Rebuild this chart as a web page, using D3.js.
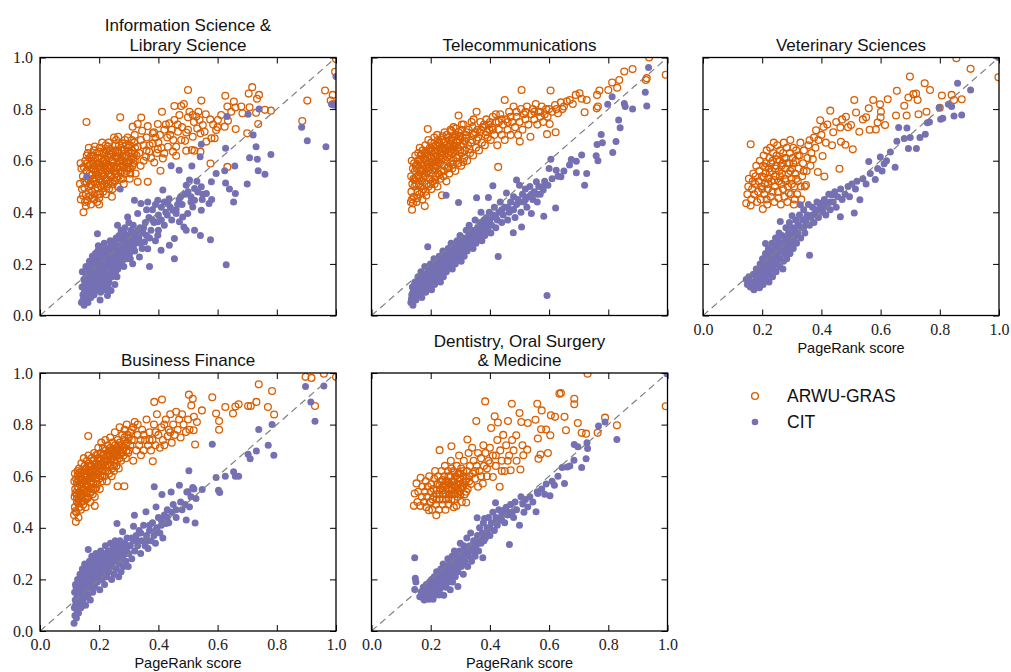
<!DOCTYPE html>
<html>
<head>
<meta charset="utf-8">
<script src="https://cdn.jsdelivr.net/npm/d3@7"></script>
<style>
  body { margin: 0; background: #fff; }
  svg { display: block; }
</style>
</head>
<body>
<div id="chart"></div>
<script>
// values, [PageRank score, other ranking score]
const infoArwu = [
  [0.138,0.45],[0.142,0.49],[0.135,0.51],[0.145,0.54],[0.14,0.57],[0.137,0.59],
  [0.152,0.44],[0.155,0.47],[0.15,0.52],[0.157,0.56],[0.153,0.60],[0.158,0.62],
  [0.163,0.46],[0.166,0.50],[0.161,0.53],[0.168,0.55],[0.164,0.58],[0.167,0.61],[0.162,0.63],
  [0.172,0.43],[0.176,0.48],[0.171,0.51],[0.178,0.53],[0.174,0.57],[0.177,0.59],[0.173,0.62],
  [0.183,0.45],[0.186,0.49],[0.181,0.52],[0.188,0.56],[0.184,0.58],[0.187,0.61],[0.182,0.64],
  [0.193,0.44],[0.196,0.47],[0.191,0.51],[0.198,0.54],[0.194,0.57],[0.197,0.59],[0.192,0.63],
  [0.203,0.47],[0.206,0.50],[0.201,0.53],[0.208,0.55],[0.204,0.58],[0.207,0.61],[0.202,0.65],
  [0.213,0.48],[0.216,0.51],[0.211,0.54],[0.218,0.57],[0.214,0.60],[0.217,0.63],
  [0.223,0.47],[0.226,0.50],[0.221,0.53],[0.228,0.56],[0.224,0.59],[0.227,0.62],[0.222,0.66],
  [0.233,0.49],[0.236,0.52],[0.231,0.55],[0.238,0.58],[0.234,0.61],[0.237,0.64],[0.232,0.67],
  [0.243,0.46],[0.246,0.51],[0.241,0.54],[0.248,0.57],[0.244,0.60],[0.247,0.63],
  [0.253,0.52],[0.256,0.55],[0.251,0.58],[0.258,0.61],[0.254,0.64],[0.257,0.68],
  [0.263,0.50],[0.266,0.54],[0.261,0.57],[0.268,0.60],[0.264,0.63],[0.267,0.66],
  [0.273,0.53],[0.276,0.56],[0.271,0.59],[0.278,0.62],[0.274,0.65],
  [0.283,0.51],[0.286,0.55],[0.281,0.58],[0.288,0.61],[0.284,0.64],[0.287,0.68],
  [0.293,0.56],[0.296,0.59],[0.291,0.62],[0.298,0.65],
  [0.303,0.53],[0.306,0.57],[0.301,0.60],[0.308,0.63],[0.304,0.66],
  [0.313,0.58],[0.316,0.61],[0.311,0.64],[0.318,0.67],[0.323,0.55],[0.326,0.62],[0.321,0.65],
  [0.145,0.465],[0.15,0.495],[0.148,0.575],[0.16,0.445],[0.158,0.515],[0.17,0.465],[0.175,0.545],
  [0.18,0.60],[0.185,0.47],[0.19,0.53],[0.195,0.61],[0.2,0.455],[0.205,0.56],[0.21,0.63],
  [0.215,0.495],[0.22,0.58],[0.225,0.64],[0.23,0.51],[0.235,0.57],[0.24,0.625],[0.245,0.49],
  [0.25,0.56],[0.255,0.66],[0.26,0.535],[0.265,0.61],[0.27,0.575],[0.275,0.64],[0.28,0.53],
  [0.285,0.595],[0.29,0.66],[0.295,0.57],[0.3,0.63],[0.305,0.55],[0.31,0.68],[0.315,0.59],
  [0.2,0.43],[0.178,0.455],[0.155,0.425],[0.165,0.65],[0.185,0.655],[0.21,0.67],[0.25,0.69],
  [0.32,0.6],[0.335,0.63],[0.34,0.58],[0.35,0.66],[0.36,0.64],[0.375,0.61],[0.385,0.71],
  [0.4,0.67],[0.43,0.69],[0.445,0.72],
  [0.165,0.525],[0.17,0.585],[0.175,0.505],[0.18,0.565],[0.19,0.545],[0.195,0.495],[0.2,0.575],
  [0.205,0.525],[0.21,0.595],[0.215,0.545],[0.22,0.605],[0.225,0.525],[0.23,0.575],[0.235,0.625],
  [0.24,0.545],[0.245,0.595],[0.25,0.525],[0.255,0.615],[0.26,0.575],[0.265,0.635],[0.27,0.555],
  [0.275,0.605],[0.28,0.575],[0.29,0.595],[0.3,0.575],[0.31,0.615],[0.2,0.635],[0.18,0.62],
  [0.16,0.59],[0.23,0.655],
  [0.313,0.732],[0.33,0.742],[0.345,0.716],[0.342,0.767],[0.364,0.734],[0.381,0.706],[0.398,0.742],
  [0.412,0.79],[0.425,0.74],[0.437,0.745],[0.454,0.758],[0.454,0.812],[0.477,0.812],[0.486,0.82],
  [0.471,0.777],[0.50,0.768],[0.505,0.79],[0.516,0.777],[0.528,0.771],[0.539,0.758],[0.55,0.738],
  [0.531,0.725],[0.556,0.712],[0.542,0.706],[0.516,0.693],[0.494,0.709],[0.466,0.712],[0.477,0.68],
  [0.49,0.677],[0.46,0.654],[0.449,0.635],[0.46,0.619],[0.494,0.639],[0.513,0.641],[0.522,0.639],
  [0.542,0.635],[0.432,0.654],[0.42,0.628],[0.398,0.644],[0.381,0.667],[0.369,0.635],[0.358,0.615],
  [0.341,0.68],[0.33,0.654],[0.319,0.628],[0.296,0.69],[0.279,0.667],[0.264,0.693],[0.364,0.518],
  [0.33,0.518],[0.407,0.561],[0.386,0.593],[0.415,0.609],[0.59,0.687],[0.562,0.674],[0.601,0.758],
  [0.646,0.79],[0.633,0.81],[0.612,0.777],[0.66,0.806],[0.684,0.784],[0.35,0.60],[0.37,0.66],
  [0.39,0.69],[0.405,0.70],[0.42,0.72],[0.44,0.70],[0.45,0.68],[0.465,0.74],[0.48,0.73],[0.50,0.72],
  [0.52,0.75],[0.535,0.79],[0.56,0.78],[0.575,0.76],[0.585,0.74],[0.6,0.73],[0.395,0.63],[0.41,0.65],
  [0.36,0.69],[0.32,0.70],
  [0.157,0.75],[0.147,0.40],[0.271,0.768],[0.50,0.874],[0.545,0.833],[0.717,0.885],[0.74,0.855],
  [0.733,0.84],[0.705,0.86],[0.626,0.852],[0.655,0.829],[0.68,0.81],[0.708,0.807],[0.76,0.797],
  [0.78,0.794],[0.73,0.786],[0.737,0.742],[0.70,0.706],[0.661,0.723],[0.624,0.732],[0.635,0.755],
  [0.595,0.719],[0.579,0.687],[0.576,0.589],[0.633,0.576],[0.886,0.754],[0.903,0.833],[0.963,0.872],
  [0.989,0.855],[0.997,0.945],[1.0,0.994],[0.982,0.833],[0.99,0.82]
];
const infoCit = [
  [0.14,0.05],[0.145,0.08],[0.142,0.11],[0.148,0.14],[0.143,0.17],[0.149,0.04],
  [0.153,0.06],[0.156,0.10],[0.152,0.13],[0.158,0.16],[0.155,0.19],
  [0.162,0.05],[0.165,0.09],[0.161,0.12],[0.168,0.15],[0.164,0.18],[0.167,0.21],
  [0.172,0.07],[0.176,0.11],[0.171,0.14],[0.178,0.17],[0.174,0.20],[0.177,0.23],
  [0.183,0.08],[0.186,0.12],[0.181,0.15],[0.188,0.18],[0.184,0.21],[0.187,0.24],
  [0.193,0.10],[0.196,0.13],[0.191,0.16],[0.198,0.19],[0.194,0.22],[0.197,0.27],[0.194,0.317],
  [0.203,0.06],[0.206,0.11],[0.201,0.14],[0.208,0.17],[0.204,0.20],[0.207,0.23],[0.206,0.259],
  [0.213,0.12],[0.216,0.15],[0.211,0.18],[0.218,0.21],[0.214,0.24],[0.217,0.28],
  [0.223,0.10],[0.228,0.078],[0.226,0.14],[0.221,0.17],[0.228,0.20],[0.224,0.23],[0.227,0.26],
  [0.233,0.13],[0.236,0.16],[0.231,0.19],[0.238,0.22],[0.234,0.25],[0.237,0.29],
  [0.243,0.15],[0.246,0.18],[0.241,0.21],[0.248,0.24],[0.244,0.27],[0.24,0.097],
  [0.253,0.12],[0.256,0.17],[0.251,0.20],[0.258,0.23],[0.254,0.26],[0.257,0.30],
  [0.263,0.18],[0.266,0.21],[0.262,0.35],[0.268,0.24],[0.264,0.27],[0.267,0.31],
  [0.273,0.20],[0.276,0.23],[0.271,0.26],[0.278,0.29],[0.274,0.33],
  [0.283,0.19],[0.285,0.24],[0.288,0.27],[0.284,0.30],[0.287,0.34],
  [0.293,0.22],[0.296,0.25],[0.296,0.382],[0.298,0.28],[0.294,0.31],
  [0.303,0.24],[0.306,0.27],[0.301,0.30],[0.308,0.33],
  [0.145,0.06],[0.15,0.09],[0.152,0.12],[0.155,0.15],[0.16,0.07],[0.163,0.14],[0.166,0.19],
  [0.17,0.09],[0.175,0.16],[0.18,0.10],[0.185,0.19],[0.19,0.12],[0.195,0.25],[0.2,0.16],
  [0.205,0.09],[0.21,0.21],[0.215,0.13],[0.22,0.25],[0.225,0.19],[0.23,0.11],[0.235,0.23],
  [0.24,0.28],[0.245,0.16],[0.25,0.22],[0.255,0.29],[0.26,0.15],[0.265,0.25],[0.27,0.30],
  [0.275,0.21],[0.28,0.27],[0.285,0.32],[0.29,0.24],[0.295,0.29],[0.3,0.36],[0.305,0.22],
  [0.31,0.31],[0.315,0.35],[0.32,0.25],[0.33,0.33],[0.34,0.28],[0.35,0.34],[0.36,0.41],
  [0.37,0.30],[0.38,0.37],[0.39,0.43],[0.40,0.33],[0.41,0.37],[0.42,0.44],[0.43,0.39],
  [0.44,0.42],[0.46,0.41],[0.47,0.45],[0.48,0.43],[0.50,0.48],[0.51,0.46],[0.53,0.52],[0.55,0.47],
  [0.155,0.085],[0.165,0.115],[0.17,0.185],[0.18,0.135],[0.19,0.205],[0.2,0.125],[0.205,0.185],
  [0.21,0.145],[0.22,0.205],[0.225,0.155],[0.23,0.235],[0.24,0.185],[0.25,0.255],[0.26,0.205],
  [0.27,0.235],[0.28,0.215],[0.29,0.265],
  [0.313,0.201],[0.316,0.26],[0.319,0.29],[0.311,0.32],[0.319,0.447],
  [0.323,0.28],[0.326,0.31],[0.33,0.395],[0.336,0.227],[0.334,0.30],[0.338,0.34],
  [0.341,0.434],[0.345,0.26],[0.348,0.32],[0.353,0.285],[0.356,0.36],[0.364,0.44],[0.364,0.259],
  [0.36,0.31],[0.368,0.38],[0.37,0.19],[0.375,0.33],[0.38,0.41],[0.385,0.36],[0.39,0.29],
  [0.398,0.447],[0.398,0.311],[0.40,0.39],[0.398,0.363],[0.409,0.253],[0.41,0.42],[0.415,0.486],
  [0.42,0.35],[0.425,0.40],[0.432,0.434],[0.436,0.453],[0.437,0.272],[0.443,0.58],[0.445,0.37],
  [0.449,0.408],[0.454,0.298],[0.454,0.22],[0.46,0.395],[0.465,0.43],[0.47,0.563],[0.471,0.363],
  [0.475,0.46],[0.482,0.382],[0.486,0.343],[0.49,0.47],[0.494,0.33],[0.494,0.505],[0.499,0.395],
  [0.505,0.525],[0.51,0.44],[0.513,0.579],[0.516,0.421],[0.522,0.447],[0.522,0.492],[0.522,0.33],
  [0.533,0.479],[0.541,0.615],[0.542,0.31],[0.545,0.499],[0.545,0.408],[0.545,0.664],[0.548,0.45],
  [0.562,0.473],[0.571,0.434],[0.576,0.294],[0.579,0.518],[0.58,0.45],[0.595,0.55],[0.624,0.561],
  [0.627,0.514],[0.627,0.648],[0.629,0.197],[0.632,0.771],[0.64,0.49],[0.654,0.44],[0.658,0.579],
  [0.66,0.473],[0.70,0.51],[0.703,0.78],[0.708,0.611],[0.72,0.70],[0.73,0.654],[0.734,0.606],
  [0.737,0.561],[0.74,0.80],[0.76,0.547],[0.78,0.624],[0.884,0.73],[0.903,0.677],[0.966,0.654],
  [0.985,0.819],[0.995,0.815],[1.0,0.926],[0.158,0.54],[0.271,0.49]
];
const telecomArwu = [
  [0.133,0.44],[0.137,0.41],[0.137,0.45],[0.135,0.48],[0.138,0.51],[0.134,0.54],[0.14,0.57],[0.136,0.60],
  [0.143,0.46],[0.145,0.50],[0.142,0.53],[0.147,0.56],[0.144,0.59],[0.148,0.62],
  [0.152,0.44],[0.155,0.48],[0.151,0.51],[0.157,0.54],[0.153,0.57],[0.156,0.60],[0.158,0.63],
  [0.162,0.47],[0.165,0.50],[0.161,0.53],[0.167,0.56],[0.164,0.59],[0.166,0.62],[0.163,0.65],
  [0.172,0.45],[0.175,0.49],[0.171,0.52],[0.178,0.55],[0.174,0.58],[0.177,0.61],[0.173,0.64],
  [0.18,0.424],[0.183,0.48],[0.186,0.51],[0.181,0.54],[0.188,0.57],[0.184,0.60],[0.187,0.63],[0.182,0.66],
  [0.19,0.723],[0.193,0.50],[0.196,0.53],[0.191,0.56],[0.198,0.59],[0.194,0.62],[0.197,0.65],[0.192,0.68],
  [0.203,0.49],[0.206,0.52],[0.201,0.55],[0.208,0.58],[0.204,0.61],[0.207,0.64],[0.202,0.67],
  [0.213,0.51],[0.216,0.54],[0.211,0.57],[0.218,0.60],[0.214,0.63],[0.217,0.66],[0.212,0.69],
  [0.223,0.50],[0.226,0.55],[0.221,0.58],[0.228,0.61],[0.224,0.64],[0.227,0.67],[0.222,0.70],
  [0.233,0.53],[0.236,0.56],[0.231,0.59],[0.238,0.62],[0.234,0.65],[0.237,0.68],[0.238,0.466],
  [0.243,0.54],[0.246,0.58],[0.241,0.61],[0.248,0.64],[0.244,0.67],[0.247,0.71],
  [0.253,0.52],[0.256,0.57],[0.251,0.60],[0.258,0.63],[0.254,0.66],[0.257,0.69],
  [0.263,0.55],[0.266,0.59],[0.261,0.62],[0.268,0.65],[0.264,0.68],[0.267,0.72],
  [0.273,0.57],[0.276,0.60],[0.271,0.63],[0.278,0.66],[0.274,0.69],[0.277,0.73],
  [0.283,0.56],[0.286,0.61],[0.281,0.64],[0.288,0.67],[0.284,0.70],[0.294,0.775],
  [0.293,0.59],[0.296,0.62],[0.291,0.65],[0.298,0.68],[0.294,0.71],
  [0.14,0.435],[0.145,0.525],[0.15,0.58],[0.155,0.455],[0.16,0.545],[0.165,0.605],[0.17,0.48],
  [0.175,0.565],[0.18,0.63],[0.185,0.465],[0.19,0.585],[0.195,0.64],[0.2,0.51],[0.205,0.595],
  [0.21,0.655],[0.215,0.525],[0.22,0.615],[0.225,0.68],[0.23,0.545],[0.235,0.635],[0.24,0.695],
  [0.245,0.56],[0.25,0.645],[0.255,0.70],[0.26,0.575],[0.265,0.665],[0.27,0.715],[0.275,0.585],
  [0.28,0.655],[0.285,0.725],[0.29,0.61],[0.295,0.695],[0.3,0.64],[0.305,0.74],[0.31,0.595],
  [0.315,0.675],[0.32,0.71],[0.33,0.645],[0.34,0.68],[0.345,0.76],[0.35,0.71],[0.36,0.69],
  [0.37,0.72],[0.38,0.74],[0.39,0.71],[0.4,0.75],[0.41,0.72],[0.42,0.78],[0.43,0.75],[0.44,0.76],
  [0.46,0.75],[0.47,0.77],[0.49,0.79],[0.52,0.79],[0.55,0.79],[0.57,0.79],[0.6,0.80],
  [0.15,0.535],[0.155,0.585],[0.16,0.51],[0.165,0.565],[0.17,0.625],[0.175,0.535],[0.18,0.59],
  [0.185,0.555],[0.19,0.615],[0.195,0.575],[0.2,0.635],[0.205,0.565],[0.21,0.615],[0.215,0.58],
  [0.22,0.645],[0.225,0.595],[0.23,0.665],[0.235,0.605],[0.24,0.645],[0.245,0.625],[0.25,0.675],
  [0.255,0.615],[0.26,0.655],[0.265,0.635],[0.27,0.685],[0.275,0.645],[0.28,0.695],[0.29,0.675],
  [0.3,0.695],[0.31,0.665],
  [0.303,0.58],[0.306,0.63],[0.301,0.66],[0.308,0.69],[0.304,0.72],[0.313,0.61],[0.316,0.64],
  [0.318,0.70],[0.311,0.74],[0.323,0.60],[0.326,0.66],[0.321,0.69],[0.328,0.72],[0.333,0.63],
  [0.336,0.67],[0.338,0.75],[0.343,0.62],[0.346,0.70],[0.341,0.73],[0.353,0.65],[0.355,0.79],
  [0.356,0.68],[0.358,0.72],[0.363,0.64],[0.366,0.71],[0.368,0.75],[0.373,0.67],[0.376,0.73],
  [0.383,0.66],[0.386,0.70],[0.388,0.76],[0.393,0.69],[0.396,0.74],[0.398,0.72],
  [0.403,0.68],[0.406,0.73],[0.41,0.77],[0.415,0.70],[0.42,0.75],[0.425,0.66],[0.428,0.576],
  [0.43,0.72],[0.435,0.78],[0.44,0.70],[0.445,0.74],[0.45,0.835],[0.45,0.68],[0.455,0.76],
  [0.46,0.72],[0.465,0.79],[0.47,0.70],[0.475,0.75],[0.48,0.81],[0.485,0.73],[0.49,0.77],
  [0.495,0.70],[0.501,0.674],[0.50,0.75],[0.505,0.80],[0.507,0.874],[0.51,0.72],[0.515,0.78],
  [0.52,0.76],[0.525,0.81],[0.53,0.74],[0.537,0.693],[0.54,0.78],[0.545,0.80],[0.55,0.76],
  [0.555,0.82],[0.56,0.74],[0.565,0.79],[0.57,0.77],[0.575,0.81],[0.58,0.75],[0.585,0.78],
  [0.593,0.703],[0.59,0.80],[0.595,0.77],
  [0.602,0.742],[0.605,0.872],[0.61,0.79],[0.62,0.816],[0.622,0.71],[0.625,0.80],[0.63,0.784],
  [0.64,0.826],[0.645,0.80],[0.65,0.81],[0.66,0.83],[0.67,0.835],[0.68,0.82],[0.69,0.855],
  [0.703,0.861],[0.71,0.84],[0.72,0.788],[0.727,0.835],[0.762,0.855],[0.761,0.803],[0.77,0.872],
  [0.765,0.81],[0.80,0.874],[0.813,0.903],[0.83,0.883],[0.837,0.913],[0.854,0.946],[0.882,0.955],
  [0.927,0.913],[0.93,0.92],[0.938,1.0],[0.994,0.933]
];
const telecomCit = [
  [0.133,0.05],[0.136,0.08],[0.138,0.11],[0.14,0.04],[0.143,0.07],[0.145,0.10],[0.147,0.13],
  [0.15,0.06],[0.152,0.09],[0.155,0.12],[0.157,0.15],[0.16,0.08],[0.163,0.11],[0.165,0.14],
  [0.167,0.17],[0.17,0.07],[0.173,0.10],[0.175,0.13],[0.177,0.16],[0.18,0.19],[0.183,0.09],
  [0.185,0.12],[0.187,0.15],[0.19,0.18],[0.19,0.266],[0.193,0.11],[0.195,0.14],[0.197,0.17],[0.199,0.20],
  [0.203,0.10],[0.205,0.13],[0.207,0.16],[0.209,0.19],[0.211,0.22],[0.213,0.12],[0.215,0.15],
  [0.217,0.18],[0.219,0.21],[0.223,0.14],[0.225,0.17],[0.227,0.20],[0.229,0.23],[0.233,0.13],
  [0.235,0.16],[0.237,0.19],[0.239,0.22],[0.241,0.25],[0.243,0.15],[0.245,0.18],[0.247,0.21],
  [0.249,0.24],[0.252,0.466],[0.253,0.17],[0.255,0.20],[0.257,0.23],[0.259,0.26],[0.263,0.19],
  [0.265,0.22],[0.267,0.25],[0.269,0.28],[0.273,0.18],[0.275,0.21],[0.277,0.24],[0.279,0.27],
  [0.283,0.20],[0.285,0.23],[0.287,0.26],[0.289,0.29],[0.293,0.22],[0.294,0.438],[0.295,0.25],
  [0.297,0.28],[0.299,0.31],
  [0.135,0.065],[0.14,0.09],[0.145,0.12],[0.15,0.08],[0.155,0.10],[0.16,0.13],[0.165,0.09],
  [0.17,0.12],[0.175,0.15],[0.18,0.11],[0.185,0.14],[0.19,0.16],[0.195,0.19],[0.2,0.12],
  [0.205,0.15],[0.21,0.18],[0.215,0.20],[0.22,0.16],[0.225,0.19],[0.23,0.21],[0.235,0.18],
  [0.24,0.20],[0.245,0.23],[0.25,0.19],[0.255,0.22],[0.26,0.24],[0.265,0.21],[0.27,0.23],
  [0.275,0.26],[0.28,0.22],[0.285,0.25],[0.29,0.27],[0.3,0.26],[0.31,0.28],[0.32,0.27],
  [0.33,0.30],[0.34,0.31],[0.35,0.33],[0.36,0.32],[0.37,0.34],[0.38,0.37],[0.39,0.35],
  [0.40,0.37],[0.42,0.38],[0.44,0.41],[0.46,0.42],[0.48,0.41],[0.50,0.44],[0.52,0.45],
  [0.54,0.47],[0.56,0.47],[0.58,0.50],
  [0.14,0.07],[0.15,0.11],[0.16,0.10],[0.17,0.14],[0.18,0.15],[0.19,0.14],[0.2,0.17],[0.21,0.16],
  [0.22,0.19],[0.23,0.18],[0.24,0.22],[0.25,0.21],[0.26,0.21],[0.27,0.26],[0.28,0.25],[0.3,0.28],
  [0.303,0.21],[0.305,0.24],[0.307,0.27],[0.309,0.30],[0.313,0.23],[0.316,0.26],[0.318,0.29],
  [0.32,0.33],[0.323,0.25],[0.326,0.28],[0.328,0.31],[0.33,0.35],[0.333,0.27],[0.336,0.30],
  [0.338,0.33],[0.343,0.26],[0.346,0.29],[0.348,0.32],[0.35,0.37],[0.353,0.28],[0.355,0.456],
  [0.356,0.31],[0.358,0.34],[0.363,0.30],[0.366,0.33],[0.368,0.36],[0.37,0.40],[0.373,0.29],
  [0.376,0.32],[0.378,0.35],[0.383,0.31],[0.386,0.34],[0.388,0.38],[0.393,0.33],[0.395,0.457],
  [0.396,0.36],[0.398,0.40],[0.403,0.32],[0.406,0.35],[0.41,0.503],[0.41,0.39],[0.415,0.42],
  [0.42,0.34],[0.425,0.37],[0.428,0.229],[0.43,0.40],[0.435,0.44],[0.44,0.36],[0.445,0.39],[0.45,0.42],
  [0.456,0.475],[0.46,0.37],[0.465,0.40],[0.47,0.44],[0.475,0.41],[0.479,0.321],[0.48,0.46],
  [0.485,0.38],[0.49,0.525],[0.49,0.43],[0.495,0.45],[0.50,0.505],[0.505,0.40],[0.507,0.343],
  [0.51,0.47],[0.515,0.44],[0.52,0.49],[0.525,0.42],[0.53,0.46],[0.535,0.50],[0.54,0.395],
  [0.545,0.45],[0.55,0.48],[0.557,0.518],[0.56,0.44],[0.565,0.50],[0.57,0.47],[0.58,0.486],
  [0.582,0.385],[0.585,0.52],[0.593,0.078],[0.596,0.505],[0.60,0.57],[0.606,0.606],[0.61,0.53],
  [0.622,0.417],[0.624,0.563],[0.63,0.54],[0.64,0.538],[0.65,0.56],
  [0.669,0.583],[0.675,0.605],[0.692,0.598],[0.692,0.553],[0.71,0.622],[0.72,0.505],[0.727,0.55],
  [0.759,0.619],[0.762,0.663],[0.765,0.6],[0.776,0.702],[0.78,0.67],[0.798,0.819],[0.813,0.848],
  [0.815,0.632],[0.826,0.674],[0.835,0.758],[0.84,0.728],[0.854,0.822],[0.857,0.81],[0.882,0.8],
  [0.925,0.865],[0.93,0.812],[0.936,0.961]
];
const vetArwu = [
  [0.146,0.435],[0.15,0.47],[0.153,0.50],[0.155,0.53],[0.161,0.426],[0.161,0.664],[0.163,0.45],
  [0.166,0.49],[0.168,0.52],[0.17,0.55],[0.173,0.47],[0.176,0.51],[0.178,0.54],[0.18,0.58],
  [0.183,0.44],[0.186,0.48],[0.188,0.52],[0.19,0.56],[0.192,0.60],[0.195,0.45],[0.197,0.50],
  [0.199,0.54],[0.202,0.413],[0.203,0.58],[0.205,0.62],[0.207,0.47],[0.209,0.51],[0.211,0.55],
  [0.213,0.59],[0.215,0.64],[0.217,0.43],[0.219,0.49],[0.221,0.53],[0.223,0.57],[0.225,0.61],
  [0.227,0.65],[0.229,0.46],[0.231,0.52],[0.233,0.56],[0.235,0.60],[0.237,0.63],[0.239,0.67],
  [0.241,0.44],[0.243,0.50],[0.245,0.54],[0.247,0.58],[0.249,0.62],[0.251,0.66],[0.253,0.48],
  [0.255,0.52],[0.257,0.56],[0.259,0.60],[0.261,0.64],[0.263,0.43],[0.265,0.51],[0.267,0.55],
  [0.269,0.59],[0.271,0.63],[0.273,0.67],[0.275,0.46],[0.277,0.53],[0.279,0.57],[0.281,0.61],
  [0.283,0.65],[0.285,0.44],[0.287,0.50],[0.289,0.55],[0.291,0.59],[0.293,0.63],[0.295,0.68],
  [0.297,0.47],[0.299,0.53],[0.301,0.57],[0.303,0.61],[0.305,0.65],[0.307,0.43],[0.309,0.50],
  [0.311,0.55],[0.313,0.60],[0.315,0.64],[0.318,0.47],[0.32,0.52],[0.323,0.57],[0.326,0.62],
  [0.329,0.67],[0.332,0.45],[0.335,0.54],[0.338,0.59],[0.341,0.64],[0.344,0.50],[0.348,0.506],
  [0.2,0.49],[0.205,0.535],[0.21,0.575],[0.215,0.45],[0.22,0.51],[0.225,0.555],[0.23,0.59],
  [0.235,0.48],[0.24,0.525],[0.245,0.57],[0.25,0.605],[0.255,0.455],[0.26,0.54],[0.265,0.58],
  [0.27,0.49],[0.275,0.61],[0.28,0.52],[0.285,0.59],[0.29,0.475],[0.295,0.56],[0.3,0.51],
  [0.305,0.59],[0.31,0.45],[0.315,0.53],[0.32,0.62],[0.33,0.50],[0.34,0.56],
  [0.35,0.56],[0.353,0.61],[0.356,0.66],[0.36,0.679],[0.363,0.58],[0.366,0.63],[0.371,0.606],
  [0.375,0.69],[0.38,0.65],[0.382,0.718],[0.388,0.556],[0.39,0.68],[0.396,0.757],[0.40,0.70],
  [0.404,0.618],[0.407,0.731],[0.41,0.539],[0.415,0.67],[0.42,0.74],[0.43,0.794],[0.436,0.66],
  [0.44,0.71],[0.45,0.75],[0.461,0.569],[0.464,0.729],[0.466,0.673],[0.47,0.76],[0.481,0.662],
  [0.483,0.77],[0.49,0.73],[0.50,0.738],[0.506,0.644],[0.511,0.835],[0.517,0.787],[0.528,0.712],
  [0.54,0.76],[0.551,0.768],[0.56,0.803],[0.563,0.72],[0.575,0.835],[0.584,0.721],[0.59,0.748],
  [0.598,0.819],[0.60,0.768],[0.601,0.79],[0.615,0.738],[0.624,0.838],[0.652,0.775],[0.655,0.871],
  [0.68,0.813],[0.688,0.775],[0.694,0.845],[0.699,0.926],[0.711,0.858],[0.72,0.86],[0.725,0.835],
  [0.728,0.78],[0.749,0.9],[0.755,0.79],[0.767,0.874],[0.80,0.805],[0.807,0.853],[0.84,0.855],
  [0.848,0.835],[0.856,0.997],[0.874,0.838],[0.904,0.956],[0.998,0.923]
];
const vetCit = [
  [0.146,0.14],[0.15,0.12],[0.155,0.15],[0.16,0.11],[0.165,0.13],[0.17,0.16],[0.172,0.10],
  [0.175,0.12],[0.178,0.15],[0.18,0.18],[0.183,0.11],[0.186,0.14],[0.188,0.17],[0.191,0.108],
  [0.193,0.20],[0.195,0.13],[0.197,0.16],[0.199,0.19],[0.201,0.22],[0.203,0.12],[0.205,0.15],
  [0.207,0.18],[0.209,0.21],[0.211,0.279],[0.211,0.24],[0.213,0.14],[0.215,0.17],[0.217,0.20],
  [0.219,0.23],[0.221,0.26],[0.223,0.13],[0.225,0.16],[0.227,0.19],[0.229,0.22],[0.231,0.25],
  [0.233,0.28],[0.235,0.15],[0.237,0.18],[0.239,0.21],[0.241,0.24],[0.243,0.27],[0.245,0.30],
  [0.247,0.17],[0.249,0.20],[0.251,0.23],[0.253,0.26],[0.255,0.29],[0.257,0.32],[0.259,0.19],
  [0.261,0.364],[0.261,0.22],[0.263,0.25],[0.265,0.28],[0.267,0.31],[0.27,0.18],[0.272,0.21],
  [0.274,0.24],[0.276,0.27],[0.278,0.30],[0.28,0.34],[0.283,0.22],[0.285,0.26],[0.287,0.29],
  [0.289,0.32],[0.292,0.36],[0.294,0.24],[0.296,0.28],[0.298,0.31],[0.301,0.387],[0.302,0.34],
  [0.19,0.12],[0.2,0.14],[0.21,0.16],[0.22,0.18],[0.23,0.20],[0.24,0.22],[0.25,0.24],
  [0.26,0.26],[0.27,0.28],[0.28,0.25],[0.29,0.30],[0.3,0.29],[0.31,0.31],[0.32,0.35],
  [0.34,0.34],[0.35,0.38],[0.37,0.39],[0.39,0.41],[0.41,0.42],[0.43,0.44],
  [0.305,0.26],[0.308,0.30],[0.31,0.33],[0.313,0.37],[0.316,0.28],[0.32,0.32],[0.323,0.35],
  [0.326,0.39],[0.329,0.429],[0.33,0.30],[0.333,0.34],[0.336,0.37],[0.34,0.41],[0.344,0.32],
  [0.348,0.36],[0.352,0.39],[0.356,0.43],[0.36,0.234],[0.36,0.35],[0.365,0.38],[0.37,0.42],
  [0.375,0.36],[0.38,0.40],[0.385,0.44],[0.39,0.38],[0.395,0.42],[0.402,0.436],[0.405,0.40],
  [0.41,0.45],[0.415,0.39],[0.42,0.43],[0.425,0.47],[0.43,0.41],[0.436,0.468],[0.44,0.44],
  [0.445,0.48],[0.45,0.42],[0.455,0.46],[0.464,0.383],[0.465,0.49],[0.47,0.45],[0.48,0.47],
  [0.49,0.50],[0.495,0.46],[0.503,0.51],[0.511,0.397],[0.515,0.49],[0.52,0.52],[0.53,0.449],
  [0.54,0.53],[0.551,0.51],[0.56,0.597],[0.565,0.55],[0.582,0.527],[0.59,0.57],[0.599,0.614],
  [0.605,0.56],[0.612,0.588],[0.62,0.60],[0.633,0.634],[0.649,0.575],[0.655,0.675],[0.661,0.729],
  [0.68,0.686],[0.689,0.727],[0.694,0.647],[0.70,0.69],[0.721,0.647],[0.733,0.69],[0.751,0.703],
  [0.758,0.747],[0.765,0.75],[0.798,0.805],[0.803,0.761],[0.81,0.765],[0.829,0.819],[0.84,0.81],
  [0.848,0.773],[0.86,0.9],[0.874,0.777],[0.904,0.874],[0.998,1.0]
];
const finArwu = [
  [0.115,0.45],[0.118,0.48],[0.117,0.52],[0.119,0.55],[0.116,0.58],[0.118,0.61],[0.121,0.423],
  [0.123,0.46],[0.125,0.50],[0.124,0.53],[0.126,0.56],[0.122,0.59],[0.127,0.62],[0.13,0.44],
  [0.132,0.48],[0.131,0.51],[0.134,0.54],[0.133,0.57],[0.135,0.60],[0.132,0.63],[0.138,0.47],
  [0.14,0.50],[0.139,0.53],[0.142,0.56],[0.141,0.59],[0.143,0.62],[0.14,0.65],[0.146,0.49],
  [0.148,0.52],[0.147,0.55],[0.15,0.58],[0.149,0.61],[0.151,0.64],[0.148,0.67],[0.154,0.48],
  [0.156,0.54],[0.155,0.57],[0.158,0.60],[0.157,0.63],[0.159,0.66],[0.163,0.756],[0.162,0.52],
  [0.164,0.56],[0.166,0.59],[0.165,0.62],[0.167,0.65],[0.164,0.68],[0.17,0.50],[0.172,0.55],
  [0.171,0.58],[0.174,0.61],[0.173,0.64],[0.175,0.67],[0.178,0.53],[0.18,0.57],[0.179,0.60],
  [0.182,0.63],[0.181,0.66],[0.183,0.69],[0.185,0.485],[0.186,0.55],[0.188,0.59],[0.187,0.62],
  [0.19,0.65],[0.189,0.68],[0.194,0.57],[0.196,0.61],[0.195,0.64],[0.198,0.67],[0.197,0.71],
  [0.202,0.55],[0.204,0.60],[0.203,0.63],[0.206,0.66],[0.205,0.69],[0.207,0.73],[0.21,0.58],
  [0.212,0.62],[0.211,0.65],[0.214,0.68],[0.213,0.71],[0.218,0.60],[0.22,0.64],[0.219,0.67],
  [0.222,0.70],[0.221,0.74],[0.226,0.58],[0.228,0.62],[0.227,0.66],[0.23,0.69],[0.229,0.72],
  [0.234,0.61],[0.236,0.64],[0.235,0.68],[0.238,0.71],[0.237,0.75],[0.242,0.60],[0.244,0.63],
  [0.243,0.67],[0.246,0.70],[0.245,0.73],[0.25,0.62],[0.252,0.66],[0.251,0.69],[0.254,0.72],
  [0.253,0.77],[0.258,0.64],[0.26,0.68],[0.262,0.561],[0.259,0.71],[0.262,0.74],[0.266,0.63],
  [0.268,0.67],[0.267,0.70],[0.27,0.73],[0.269,0.79],[0.274,0.66],[0.276,0.69],[0.275,0.72],
  [0.278,0.76],[0.285,0.561],[0.282,0.68],[0.284,0.71],[0.283,0.74],[0.286,0.78],[0.29,0.67],
  [0.292,0.70],[0.294,0.73],[0.293,0.80],[0.298,0.69],[0.30,0.75],
  [0.12,0.465],[0.12,0.535],[0.125,0.575],[0.128,0.605],[0.13,0.495],[0.135,0.525],[0.137,0.585],
  [0.14,0.615],[0.145,0.505],[0.145,0.545],[0.15,0.595],[0.152,0.625],[0.155,0.51],[0.16,0.565],
  [0.16,0.605],[0.165,0.64],[0.17,0.535],[0.175,0.595],[0.177,0.625],[0.18,0.66],[0.185,0.52],
  [0.19,0.58],[0.192,0.635],[0.195,0.685],[0.2,0.59],[0.2,0.62],[0.205,0.645],[0.21,0.60],
  [0.215,0.66],[0.22,0.62],[0.225,0.68],[0.23,0.645],[0.235,0.70],[0.24,0.66],[0.245,0.69],
  [0.25,0.64],[0.255,0.70],[0.26,0.66],[0.265,0.72],[0.27,0.69],[0.28,0.70],[0.285,0.75],
  [0.29,0.72],[0.295,0.76],[0.3,0.70],[0.305,0.77],[0.31,0.74],[0.315,0.79],[0.33,0.80],
  [0.34,0.74],[0.35,0.76],[0.37,0.74],[0.39,0.77],[0.42,0.80],[0.44,0.77],
  [0.125,0.515],[0.13,0.555],[0.13,0.585],[0.135,0.615],[0.14,0.545],[0.145,0.575],[0.15,0.535],
  [0.15,0.625],[0.155,0.585],[0.16,0.545],[0.165,0.615],[0.17,0.575],[0.17,0.635],[0.175,0.555],
  [0.18,0.615],[0.185,0.645],[0.19,0.605],[0.195,0.665],[0.2,0.64],[0.21,0.625],[0.215,0.685],
  [0.22,0.655],[0.23,0.675],[0.24,0.695],[0.25,0.675],[0.26,0.70],[0.27,0.71],[0.19,0.555],
  [0.16,0.515],[0.14,0.52],
  [0.305,0.72],[0.31,0.78],[0.315,0.66],[0.318,0.74],[0.32,0.81],[0.325,0.70],[0.33,0.76],
  [0.335,0.72],[0.341,0.681],[0.345,0.78],[0.35,0.70],[0.355,0.74],[0.36,0.82],[0.365,0.72],
  [0.37,0.77],[0.375,0.70],[0.381,0.658],[0.38,0.74],[0.386,0.888],[0.385,0.80],[0.39,0.72],
  [0.395,0.84],[0.40,0.76],[0.405,0.71],[0.412,0.897],[0.41,0.79],[0.415,0.74],[0.42,0.72],
  [0.425,0.82],[0.431,0.755],[0.435,0.78],[0.44,0.84],[0.445,0.73],[0.45,0.80],[0.455,0.76],
  [0.46,0.85],[0.465,0.78],[0.47,0.82],[0.475,0.75],[0.48,0.84],[0.485,0.80],[0.493,0.771],
  [0.50,0.82],[0.503,0.916],[0.505,0.78],[0.511,0.874],[0.516,0.9],[0.519,0.778],[0.52,0.83],
  [0.524,0.723],[0.53,0.81],[0.547,0.855],
  [0.582,0.906],[0.595,0.843],[0.605,0.78],[0.605,0.814],[0.626,0.868],[0.652,0.843],[0.66,0.87],
  [0.671,0.879],[0.703,0.872],[0.712,0.872],[0.731,0.888],[0.739,0.956],[0.77,0.868],[0.784,0.93],
  [0.791,0.839],[0.897,0.985],[0.917,0.981],[0.929,0.872],[0.959,0.997],[1.0,0.985]
];
const finCit = [
  [0.115,0.03],[0.118,0.06],[0.116,0.09],[0.119,0.12],[0.117,0.15],[0.12,0.18],[0.123,0.05],
  [0.125,0.08],[0.124,0.11],[0.126,0.14],[0.122,0.17],[0.127,0.20],[0.13,0.07],[0.132,0.10],
  [0.131,0.13],[0.134,0.16],[0.133,0.19],[0.135,0.22],[0.138,0.09],[0.14,0.12],[0.139,0.15],
  [0.142,0.18],[0.141,0.21],[0.143,0.24],[0.146,0.11],[0.148,0.14],[0.147,0.17],[0.15,0.20],
  [0.149,0.23],[0.151,0.26],[0.154,0.10],[0.156,0.16],[0.155,0.19],[0.158,0.22],[0.157,0.25],
  [0.163,0.316],[0.162,0.14],[0.164,0.18],[0.166,0.21],[0.165,0.24],[0.167,0.27],[0.17,0.12],
  [0.172,0.17],[0.171,0.20],[0.174,0.23],[0.173,0.26],[0.175,0.29],[0.178,0.15],[0.18,0.19],
  [0.179,0.22],[0.182,0.25],[0.181,0.28],[0.186,0.17],[0.188,0.21],[0.187,0.24],[0.19,0.27],
  [0.189,0.30],[0.194,0.19],[0.196,0.23],[0.195,0.26],[0.198,0.29],[0.202,0.16],[0.204,0.21],
  [0.203,0.25],[0.206,0.28],[0.205,0.31],[0.21,0.20],[0.212,0.23],[0.211,0.27],[0.214,0.30],
  [0.218,0.18],[0.22,0.22],[0.219,0.25],[0.222,0.29],[0.221,0.33],[0.226,0.21],[0.228,0.24],
  [0.227,0.28],[0.23,0.31],[0.234,0.23],[0.236,0.26],[0.235,0.30],[0.238,0.34],[0.242,0.20],
  [0.244,0.25],[0.243,0.29],[0.246,0.32],[0.25,0.22],[0.252,0.27],[0.251,0.31],[0.254,0.35],
  [0.258,0.24],[0.26,0.417],[0.26,0.29],[0.262,0.33],[0.266,0.21],[0.268,0.26],[0.267,0.30],
  [0.27,0.35],[0.274,0.23],[0.276,0.28],[0.279,0.385],[0.278,0.32],[0.282,0.25],[0.284,0.30],
  [0.286,0.34],[0.29,0.27],[0.292,0.32],[0.294,0.36],[0.298,0.25],[0.30,0.30],[0.305,0.33],
  [0.12,0.10],[0.125,0.13],[0.13,0.16],[0.135,0.12],[0.14,0.18],[0.145,0.15],[0.15,0.13],
  [0.155,0.22],[0.16,0.17],[0.165,0.20],[0.17,0.24],[0.175,0.19],[0.18,0.22],[0.185,0.26],
  [0.19,0.21],[0.195,0.24],[0.2,0.27],[0.205,0.22],[0.21,0.25],[0.215,0.28],[0.22,0.24],
  [0.225,0.27],[0.23,0.29],[0.235,0.25],[0.24,0.31],[0.245,0.28],[0.25,0.33],[0.255,0.30],
  [0.265,0.32],[0.27,0.28],[0.28,0.34],[0.29,0.30],[0.3,0.33],[0.31,0.36],[0.33,0.35],
  [0.34,0.38],[0.36,0.35],[0.37,0.41],[0.39,0.39],[0.41,0.43],[0.43,0.44],[0.46,0.47],
  [0.49,0.49],[0.5,0.54],
  [0.125,0.16],[0.13,0.19],[0.135,0.09],[0.14,0.145],[0.145,0.2],[0.15,0.165],[0.16,0.2],
  [0.165,0.225],[0.17,0.18],[0.18,0.245],[0.19,0.235],[0.2,0.20],[0.21,0.27],[0.22,0.26],
  [0.23,0.255],[0.24,0.27],[0.26,0.31],[0.28,0.29],
  [0.31,0.28],[0.316,0.406],[0.315,0.35],[0.319,0.449],[0.32,0.31],[0.325,0.37],[0.33,0.33],
  [0.335,0.39],[0.34,0.30],[0.345,0.35],[0.35,0.41],[0.355,0.33],[0.358,0.462],[0.36,0.37],
  [0.365,0.32],[0.37,0.39],[0.375,0.35],[0.38,0.42],[0.386,0.559],[0.385,0.37],[0.392,0.481],
  [0.39,0.34],[0.395,0.40],[0.40,0.44],[0.405,0.38],[0.412,0.529],[0.41,0.41],[0.415,0.36],
  [0.42,0.45],[0.426,0.417],[0.43,0.47],[0.435,0.42],[0.443,0.539],[0.445,0.46],[0.45,0.49],
  [0.46,0.44],[0.471,0.565],[0.475,0.50],[0.48,0.47],[0.494,0.43],[0.496,0.539],[0.503,0.621],
  [0.505,0.481],[0.51,0.52],[0.516,0.556],[0.52,0.55],[0.524,0.419],[0.527,0.514],[0.548,0.548],
  [0.582,0.724],[0.595,0.595],[0.603,0.546],[0.607,0.537],[0.626,0.6],[0.654,0.617],[0.66,0.60],
  [0.671,0.6],[0.703,0.685],[0.71,0.668],[0.731,0.698],[0.739,0.781],[0.771,0.72],[0.784,0.8],
  [0.79,0.681],[0.897,0.948],[0.915,0.888],[0.929,0.813],[0.959,0.95]
];
const dentArwu = [
  [0.143,0.485],[0.146,0.533],[0.152,0.572],[0.155,0.50],[0.158,0.54],[0.166,0.594],[0.165,0.485],
  [0.17,0.52],[0.172,0.56],[0.178,0.50],[0.18,0.54],[0.183,0.58],[0.185,0.48],[0.188,0.52],
  [0.19,0.56],[0.194,0.468],[0.195,0.60],[0.197,0.50],[0.2,0.54],[0.202,0.57],[0.205,0.47],
  [0.207,0.51],[0.21,0.55],[0.212,0.59],[0.215,0.62],[0.219,0.449],[0.218,0.49],[0.22,0.53],
  [0.222,0.57],[0.225,0.60],[0.228,0.47],[0.23,0.701],[0.23,0.51],[0.232,0.55],[0.235,0.58],
  [0.237,0.62],[0.24,0.49],[0.242,0.53],[0.244,0.56],[0.246,0.60],[0.248,0.64],[0.25,0.47],
  [0.252,0.51],[0.254,0.55],[0.256,0.58],[0.258,0.62],[0.26,0.49],[0.262,0.53],[0.264,0.57],
  [0.266,0.60],[0.268,0.66],[0.27,0.716],[0.27,0.51],[0.272,0.55],[0.274,0.58],[0.276,0.62],
  [0.278,0.48],[0.28,0.53],[0.282,0.56],[0.284,0.60],[0.287,0.485],[0.288,0.64],[0.29,0.52],
  [0.292,0.57],[0.294,0.61],[0.296,0.68],[0.298,0.54],[0.30,0.59],[0.303,0.63],[0.305,0.50],
  [0.307,0.56],[0.31,0.60],[0.312,0.66],[0.315,0.53],[0.318,0.58],[0.32,0.498],[0.322,0.62],
  [0.2,0.5],[0.21,0.52],[0.22,0.51],[0.23,0.53],[0.24,0.51],[0.25,0.53],[0.26,0.55],[0.27,0.53],
  [0.28,0.51],[0.29,0.55],[0.3,0.53],[0.31,0.56],[0.25,0.58],[0.26,0.6],[0.28,0.58],[0.3,0.57],
  [0.32,0.54],[0.33,0.58],[0.35,0.62],[0.37,0.6],[0.39,0.63],[0.4,0.65],[0.42,0.68],[0.44,0.62],
  [0.46,0.66],[0.27,0.63],[0.29,0.59],[0.31,0.62],
  [0.22,0.545],[0.23,0.565],[0.24,0.545],[0.25,0.565],[0.26,0.575],[0.27,0.545],[0.28,0.565],
  [0.29,0.535],[0.3,0.555],[0.31,0.575],[0.24,0.585],[0.26,0.515],[0.28,0.615],[0.3,0.61],[0.32,0.59],
  [0.324,0.742],[0.325,0.55],[0.328,0.69],[0.33,0.60],[0.333,0.64],[0.336,0.57],[0.34,0.71],
  [0.342,0.61],[0.345,0.66],[0.35,0.59],[0.354,0.814],[0.355,0.64],[0.36,0.559],[0.36,0.69],
  [0.365,0.62],[0.37,0.67],[0.376,0.572],[0.378,0.72],[0.38,0.64],[0.384,0.89],[0.385,0.69],
  [0.39,0.60],[0.395,0.66],[0.40,0.71],[0.404,0.787],[0.41,0.597],[0.41,0.68],[0.416,0.832],
  [0.42,0.64],[0.425,0.74],[0.427,0.808],[0.433,0.559],[0.435,0.70],[0.44,0.66],[0.445,0.76],
  [0.45,0.62],[0.455,0.72],[0.461,0.814],[0.465,0.68],[0.47,0.623],[0.474,0.881],[0.475,0.74],
  [0.48,0.70],[0.489,0.759],[0.49,0.66],[0.5,0.845],[0.503,0.626],[0.506,0.81],[0.51,0.72],
  [0.513,0.681],[0.526,0.703],[0.528,0.806],[0.554,0.819],[0.56,0.881],[0.562,0.746],[0.564,0.668],
  [0.571,0.684],[0.573,0.782],[0.575,0.855],[0.59,0.781],[0.596,0.69],[0.604,0.759],[0.606,0.836],
  [0.62,0.83],[0.635,0.92],[0.64,0.922],[0.652,0.83],[0.657,0.778],[0.685,0.9],[0.685,0.879],
  [0.697,0.806],[0.71,0.768],[0.725,0.765],[0.73,0.997],[0.764,0.768],[0.789,0.827],[0.829,0.797],
  [0.994,0.871]
];
const dentCit = [
  [0.146,0.284],[0.148,0.204],[0.15,0.19],[0.146,0.161],[0.163,0.133],[0.168,0.15],[0.172,0.13],
  [0.175,0.17],[0.178,0.12],[0.182,0.15],[0.185,0.18],[0.188,0.13],[0.191,0.16],[0.194,0.123],
  [0.196,0.19],[0.198,0.14],[0.2,0.17],[0.203,0.20],[0.205,0.15],[0.208,0.123],[0.209,0.18],
  [0.212,0.21],[0.214,0.14],[0.216,0.17],[0.218,0.20],[0.22,0.23],[0.222,0.16],[0.224,0.19],
  [0.226,0.22],[0.228,0.14],[0.23,0.18],[0.232,0.21],[0.234,0.24],[0.236,0.17],[0.238,0.20],
  [0.24,0.23],[0.242,0.26],[0.244,0.139],[0.246,0.19],[0.248,0.22],[0.25,0.25],[0.252,0.17],
  [0.254,0.21],[0.256,0.24],[0.258,0.28],[0.26,0.19],[0.262,0.23],[0.264,0.26],[0.266,0.16],
  [0.268,0.21],[0.27,0.25],[0.272,0.29],[0.274,0.19],[0.276,0.23],[0.278,0.27],[0.28,0.31],
  [0.283,0.21],[0.285,0.25],[0.288,0.29],[0.292,0.172],[0.292,0.23],[0.295,0.27],[0.298,0.31],
  [0.2,0.15],[0.21,0.14],[0.22,0.18],[0.23,0.16],[0.24,0.19],[0.25,0.2],[0.26,0.21],[0.27,0.22],
  [0.28,0.24],[0.29,0.26],[0.3,0.28],[0.31,0.26],[0.32,0.3],[0.33,0.31],[0.34,0.33],[0.35,0.31],
  [0.36,0.34],[0.37,0.37],[0.38,0.35],[0.4,0.4],[0.42,0.42],[0.44,0.43],[0.46,0.46],
  [0.30,0.34],[0.303,0.25],[0.306,0.29],[0.31,0.22],[0.312,0.33],[0.315,0.27],[0.318,0.31],
  [0.322,0.36],[0.325,0.25],[0.328,0.29],[0.332,0.33],[0.335,0.38],[0.338,0.27],[0.342,0.31],
  [0.345,0.35],[0.35,0.29],[0.353,0.33],[0.357,0.439],[0.358,0.37],[0.36,0.359],[0.362,0.31],
  [0.365,0.40],[0.37,0.34],[0.374,0.38],[0.376,0.284],[0.378,0.42],[0.382,0.436],[0.385,0.36],
  [0.39,0.40],[0.391,0.385],[0.395,0.44],[0.40,0.37],[0.405,0.42],[0.41,0.46],[0.415,0.39],
  [0.419,0.497],[0.42,0.44],[0.425,0.41],[0.43,0.47],[0.435,0.43],[0.44,0.45],[0.447,0.468],
  [0.45,0.42],[0.455,0.48],[0.46,0.45],[0.466,0.335],[0.47,0.49],[0.475,0.46],[0.48,0.44],
  [0.485,0.50],[0.49,0.47],[0.5,0.41],[0.505,0.52],[0.511,0.492],[0.515,0.46],[0.52,0.51],
  [0.528,0.481],[0.535,0.52],[0.545,0.50],[0.556,0.462],[0.56,0.54],[0.562,0.533],[0.575,0.55],
  [0.585,0.53],[0.59,0.57],[0.603,0.524],[0.61,0.58],[0.618,0.565],[0.63,0.60],[0.644,0.634],
  [0.652,0.572],[0.661,0.636],[0.67,0.64],[0.684,0.662],[0.685,0.723],[0.697,0.714],[0.71,0.634],
  [0.725,0.668],[0.728,0.73],[0.73,0.707],[0.767,0.795],[0.789,0.81],[0.829,0.742],[0.998,0.997]
];
const tickValues = [0, 0.2, 0.4, 0.6, 0.8, 1.0];
const seriesNames = ['ARWU-GRAS', 'CIT'];

// layout
const W = 1011, H = 672;
const COL_X = [40, 371.5, 703], ROW_Y = [57.5, 373];
const PW = 296, PH = 258;
const ORANGE = '#d95f02', PURPLE = '#7570b3';
const SERIF = '"Liberation Serif", "Times New Roman", serif';
const SANS = '"Liberation Sans", Arial, sans-serif';

const panels = [
  { title: ['Information Science &', 'Library Science'], arwu: infoArwu, cit: infoCit, c: 0, r: 0, showX: false, showY: true },
  { title: ['Telecommunications'], arwu: telecomArwu, cit: telecomCit, c: 1, r: 0, showX: false, showY: false },
  { title: ['Veterinary Sciences'], arwu: vetArwu, cit: vetCit, c: 2, r: 0, showX: true, showY: false },
  { title: ['Business Finance'], arwu: finArwu, cit: finCit, c: 0, r: 1, showX: true, showY: true },
  { title: ['Dentistry, Oral Surgery', '& Medicine'], arwu: dentArwu, cit: dentCit, c: 1, r: 1, showX: true, showY: false },
];

const svg = d3.select('#chart').append('svg').attr('width', W).attr('height', H);
svg.append('rect').attr('width', W).attr('height', H).attr('fill', '#fff');

const x = d3.scaleLinear().domain([0, 1]).range([0, PW]);
const y = d3.scaleLinear().domain([0, 1]).range([PH, 0]);
const fmt = d3.format('.1f');

panels.forEach((p, i) => {
  const g = svg.append('g').attr('transform', `translate(${COL_X[p.c]},${ROW_Y[p.r]})`);
  const clipId = 'clip' + i;
  g.append('clipPath').attr('id', clipId).append('rect').attr('width', PW).attr('height', PH);

  const plot = g.append('g').attr('clip-path', `url(#${clipId})`);
  plot.selectAll('circle.arwu').data(p.arwu).join('circle').attr('class', 'arwu')
    .attr('cx', d => x(d[0])).attr('cy', d => y(d[1])).attr('r', 3.4)
    .attr('fill', 'none').attr('stroke', ORANGE).attr('stroke-width', 1.3);
  plot.selectAll('circle.cit').data(p.cit).join('circle').attr('class', 'cit')
    .attr('cx', d => x(d[0])).attr('cy', d => y(d[1])).attr('r', 3.5)
    .attr('fill', PURPLE);
  // y = x reference line, drawn over the markers
  plot.append('line')
    .attr('x1', x(0)).attr('y1', y(0)).attr('x2', x(1)).attr('y2', y(1))
    .attr('stroke', '#808080').attr('stroke-width', 1.2).attr('stroke-dasharray', '7,4.5');

  const axes = [
    { ax: d3.axisBottom(x), t: `translate(0,${PH})`, lab: p.showX, pad: 8 },
    { ax: d3.axisTop(x), t: 'translate(0,0)', lab: false, pad: 3 },
    { ax: d3.axisLeft(y), t: 'translate(0,0)', lab: p.showY, pad: 7 },
    { ax: d3.axisRight(y), t: `translate(${PW},0)`, lab: false, pad: 3 },
  ];
  axes.forEach(a => {
    const ag = g.append('g').attr('transform', a.t)
      .call(a.ax.tickValues(tickValues).tickSizeInner(-6).tickSizeOuter(0)
        .tickPadding(a.pad).tickFormat(a.lab ? fmt : ''));
    ag.select('.domain').remove();
    ag.selectAll('line').attr('stroke', '#000').attr('stroke-width', 1);
    ag.selectAll('text').attr('font-family', SERIF).attr('font-size', 16).attr('fill', '#222');
  });

  g.append('rect').attr('width', PW).attr('height', PH)
    .attr('fill', 'none').attr('stroke', '#000').attr('stroke-width', 1.3);

  const n = p.title.length;
  p.title.forEach((t, k) => {
    g.append('text').attr('x', PW / 2).attr('y', -7 - (n - 1 - k) * 19.5)
      .attr('text-anchor', 'middle').attr('font-family', SANS).attr('font-size', 17)
      .attr('fill', '#111').text(t);
  });

  if (p.showX) {
    g.append('text').attr('x', PW / 2).attr('y', PH + 37)
      .attr('text-anchor', 'middle').attr('font-family', SANS).attr('font-size', 14.5)
      .attr('fill', '#111').text('PageRank score');
  }
});

// legend
const leg = svg.append('g').attr('transform', 'translate(755,396)');
seriesNames.forEach((name, i) => {
  const row = leg.append('g').attr('transform', `translate(0,${i * 26})`);
  if (i === 0) {
    row.append('circle').attr('r', 3.4).attr('fill', 'none').attr('stroke', ORANGE).attr('stroke-width', 1.4);
  } else {
    row.append('circle').attr('r', 3.3).attr('fill', PURPLE);
  }
  row.append('text').attr('x', 32).attr('y', 6.3)
    .attr('font-family', SANS).attr('font-size', 17.5).attr('fill', '#111').text(name);
});
</script>
</body>
</html>
